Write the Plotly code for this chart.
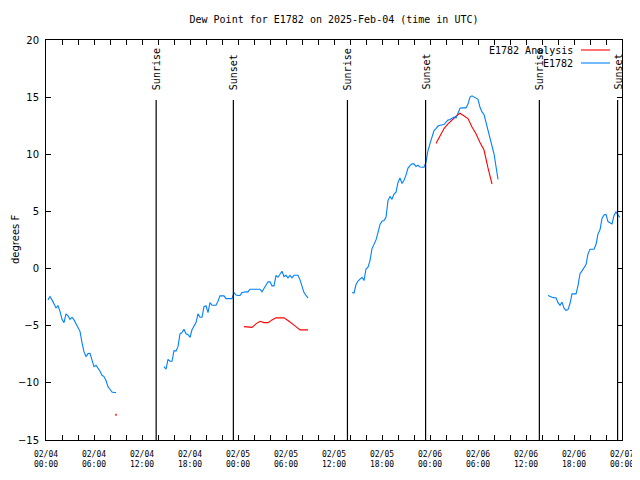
import pandas as pd
import plotly.graph_objects as go

BASE = pd.Timestamp("2025-02-04 00:00")
TITLE = "Dew Point for E1782 on 2025-Feb-04 (time in UTC)"

# Observed dew point (E1782), 15-minute samples; each segment: start hour + values
obs_seg1_start = 0.25
obs_seg1 = [-2.74, -2.45, -2.74, -3.09, -3.44, -3.26, -3.74, -4.44, -4.73, -3.96, -4.14, -4.44,
            -4.26, -4.49, -4.84, -5.14, -5.49, -6.48, -7.29, -7.7, -7.44, -7.41, -7.94, -8.58,
            -8.46, -8.69, -8.99, -9.34, -9.45, -9.8, -10.33, -10.56, -10.8, -10.85, -10.85]
obs_seg2_start = 14.75
obs_seg2 = [-8.58, -8.81, -7.94, -8.11, -8.11, -7.18, -7.22, -6.83, -5.71, -5.6, -5.31, -5.71,
            -5.78, -6.01, -5.36, -5.08, -4.73, -3.96, -4.26, -4.26, -3.33, -3.26, -3.85, -2.98,
            -3.21, -3.21, -3.21, -2.86, -2.39, -2.39, -2.39, -2.63, -2.63, -2.63, -2.63, -2.1,
            -2.32, -2.36, -2.36, -2.1, -2.04, -2.04, -2.04, -1.81, -1.81, -1.81, -1.81, -1.81,
            -1.81, -2.04, -1.75, -1.46, -1.16, -1.16, -1.51, -1.51, -0.59, -0.76, -0.53, -0.24,
            -0.7, -0.59, -0.81, -0.59, -0.81, -0.59, -0.59, -0.59, -0.99, -1.64, -2.1, -2.34, -2.56]
obs_seg3_start = 38.25
obs_seg3 = [-2.1, -2.14, -1.4, -1.09, -0.92, -0.76, -1.05, -0.04, 0.13, 0.7, 1.75, 2.14, 2.51,
            3.15, 3.85, 4.14, 4.2, 4.49, 5.95, 6.3, 6.06, 6.52, 6.69, 7.53, 7.92, 7.44, 7.73,
            8.18, 8.79, 9.01, 9.16, 9.16, 8.93, 9.04, 8.88, 8.86, 8.86, 9.32, 10.33, 10.94,
            11.55, 12.08, 12.25, 12.47, 12.54, 12.6, 12.6, 12.82, 12.99, 13.04, 13.15, 13.26,
            13.17, 13.54, 14.03, 14.06, 14.06, 14.06, 14.39, 15.0, 15.11, 15.0, 14.94, 14.81,
            14.11, 13.71, 13.48, 12.78, 11.99, 11.31, 10.61, 10.04, 8.93, 7.8]
obs_seg4_start = 62.75
obs_seg4 = [-2.36, -2.45, -2.51, -2.54, -2.56, -2.98, -3.21, -2.93, -3.46, -3.65, -3.59, -3.06,
            -2.21, -2.21, -2.21, -1.49, -0.44, -0.2, 0.04, 0.35, 1.29, 1.69, 1.69, 1.69, 2.1,
            3.04, 3.39, 4.38, 4.68, 4.73, 4.11, 3.98, 3.91, 4.64, 4.96, 4.68, 4.49]
OBS_STEP_H = 0.25

# Analysis (E1782 Analysis), 30-minute samples
ana_seg1_start = 8.75
ana_seg1 = [-12.8]
ana_seg2_start = 24.75
ana_seg2 = [-5.08, -5.14, -5.14, -4.84, -4.61, -4.73, -4.73, -4.49, -4.31, -4.31, -4.31,
            -4.55, -4.79, -5.08, -5.36, -5.36, -5.36]
ana_seg3_start = 48.75
ana_seg3 = [10.94, 11.64, 12.25, 12.66, 13.01, 13.33, 13.59, 13.39, 13.13, 12.38, 11.79,
            11.03, 10.37, 8.81, 7.4]
ANA_STEP_H = 0.5

# Sun events (hours after 2025-02-04 00:00 UTC)
event_names = ["Sunrise", "Sunset", "Sunrise", "Sunset", "Sunrise", "Sunset"]
event_hours = [13.77, 23.42, 37.68, 47.45, 61.67, 71.45]

# Axis ticks
x_tick_hours = list(range(0, 73, 2))
y_ticks = [-15, -10, -5, 0, 5, 10, 15, 20]

BLUE = "#0080ff"
RED = "#ff0000"

# page body has an 8px margin; the figure is sized to fit the 640x480 window
W, H = 632, 472


def build(segments, step):
    xs, ys, sizes = [], [], []
    for start, vals in segments:
        for i, v in enumerate(vals):
            xs.append(BASE + pd.Timedelta(hours=start + step * i))
            ys.append(v)
            sizes.append(2 if len(vals) == 1 else 0)
        xs.append(None)
        ys.append(None)
        sizes.append(0)
    return xs, ys, sizes


ox, oy, _ = build([(obs_seg1_start, obs_seg1), (obs_seg2_start, obs_seg2),
                   (obs_seg3_start, obs_seg3), (obs_seg4_start, obs_seg4)], OBS_STEP_H)
ax_, ay_, asz = build([(ana_seg1_start, ana_seg1), (ana_seg2_start, ana_seg2),
                       (ana_seg3_start, ana_seg3)], ANA_STEP_H)

fig = go.Figure()
fig.add_trace(go.Scatter(x=ax_, y=ay_, mode="lines+markers", name="E1782 Analysis",
                         line=dict(color=RED, width=1.1),
                         marker=dict(color=RED, size=asz, symbol="square", line=dict(width=0)),
                         connectgaps=False))
fig.add_trace(go.Scatter(x=ox, y=oy, mode="lines", name="E1782",
                         line=dict(color=BLUE, width=1.1), connectgaps=False))

mono = "DejaVu Sans Mono"
for name, h in zip(event_names, event_hours):
    t = BASE + pd.Timedelta(hours=h)
    fig.add_shape(type="line", xref="x", yref="paper", x0=t, x1=t, y0=0, y1=0.85,
                  line=dict(color="black", width=1.2))
    fig.add_annotation(x=t, xref="x", y=0.87, yref="paper", text=name, textangle=-90,
                       showarrow=False, xanchor="center", yanchor="bottom",
                       font=dict(family=mono, size=10, color="black"))

# manual legend (text right-aligned, line sample on the right, gnuplot style)
leg = [("E1782 Analysis", RED, 50), ("E1782", BLUE, 63)]
for txt, col, ypx in leg:
    yp = (440 - ypx) / 400
    fig.add_annotation(x=(575 - 46) / 576, xref="paper", y=yp, yref="paper", text=txt,
                       showarrow=False, xanchor="right", yanchor="middle",
                       font=dict(family=mono, size=10, color="black"))
    fig.add_shape(type="line", xref="paper", yref="paper",
                  x0=(581 - 46) / 576, x1=(610 - 46) / 576, y0=yp, y1=yp,
                  line=dict(color=col, width=1.1))

fig.add_annotation(x=(15 - 46) / 576, xref="paper", y=0.5, yref="paper", text="degrees F",
                   textangle=-90, showarrow=False, xanchor="center", yanchor="middle",
                   font=dict(family="DejaVu Sans", size=10, color="black"))

tickvals = [BASE + pd.Timedelta(hours=h) for h in x_tick_hours]
ticktext = [(BASE + pd.Timedelta(hours=h)).strftime("%m/%d<br>%H:%M") if h % 6 == 0 else ""
            for h in x_tick_hours]

fig.update_layout(
    width=W, height=H,
    margin=dict(l=38, r=18, t=32, b=40, pad=0, autoexpand=False),
    plot_bgcolor="white", paper_bgcolor="white",
    showlegend=False,
    title=dict(text=TITLE, x=326 / W, xanchor="center", y=1 - 11 / H,
               yanchor="middle", font=dict(family=mono, size=10, color="black")),
    xaxis=dict(type="date", range=[BASE, BASE + pd.Timedelta(hours=72)],
               tickmode="array", tickvals=tickvals, ticktext=ticktext, automargin=False,
               ticks="inside", ticklen=5, tickcolor="black", showline=True,
               linecolor="black", linewidth=1, mirror="ticks", showgrid=False,
               zeroline=False, ticklabelstandoff=6,
               tickfont=dict(family=mono, size=8, color="black")),
    yaxis=dict(range=[-15, 20], tickmode="array", tickvals=y_ticks, automargin=False,
               ticks="inside", ticklen=5, tickcolor="black", showline=True,
               linecolor="black", linewidth=1, mirror="ticks", showgrid=False,
               zeroline=False, ticklabelstandoff=4,
               tickfont=dict(family="DejaVu Sans", size=10, color="black")),
)

fig.write_html("out.html")
